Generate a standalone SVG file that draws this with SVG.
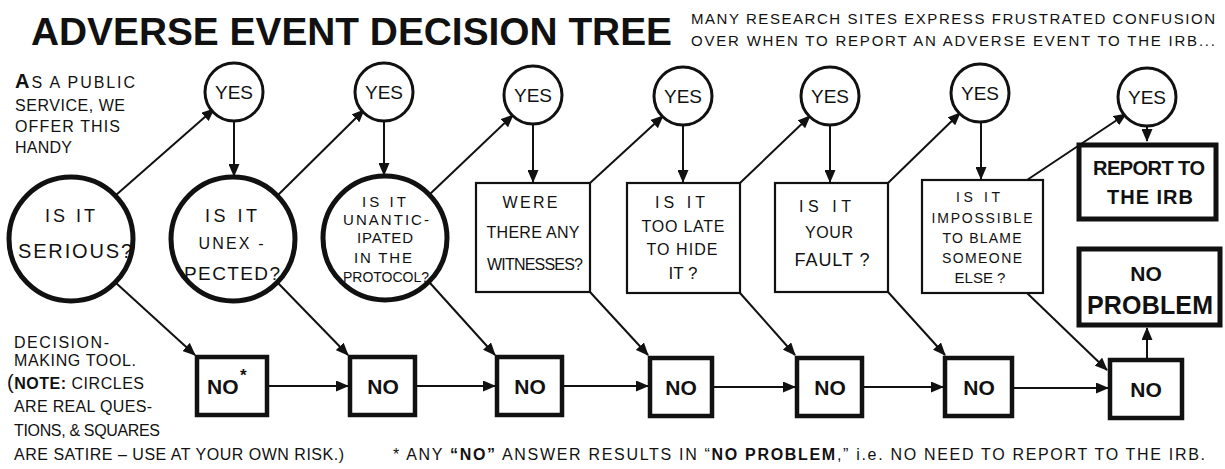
<svg xmlns="http://www.w3.org/2000/svg" width="1225" height="469" viewBox="0 0 1225 469">
<style>
.t{font-family:"Liberation Sans",Arial,sans-serif;fill:#111;text-anchor:middle}
.l{font-family:"Liberation Sans",Arial,sans-serif;fill:#111;text-anchor:start}
.b{font-weight:bold}
.qc{fill:#fff;stroke:#111;stroke-width:5}
.yc{fill:#fff;stroke:#111;stroke-width:3}
.qr{fill:#fff;stroke:#111;stroke-width:2.2}
.nb{fill:#fff;stroke:#111;stroke-width:4.5}
.c{stroke:#111;stroke-width:2;fill:none;marker-end:url(#ah)}
.q{font-size:16px}
.y{font-size:19px}
.n{font-size:21px;font-weight:bold}
.s{font-size:16px}
</style>
<defs>
<marker id="ah" markerUnits="userSpaceOnUse" markerWidth="13" markerHeight="11" viewBox="0 0 13 11" refX="12" refY="5.5" orient="auto">
<path d="M0,0 L13,5.5 L0,11 z" fill="#111"/>
</marker>
</defs>
<rect width="1225" height="469" fill="#fff"/>

<g id="title">
<text class="l b" x="31" y="45" font-size="38" textLength="641" lengthAdjust="spacingAndGlyphs">ADVERSE EVENT DECISION TREE</text>
</g>
<g id="intro">
<text class="l" x="691" y="24" font-size="15" textLength="524">MANY RESEARCH SITES EXPRESS FRUSTRATED CONFUSION</text>
<text class="l" x="691" y="46" font-size="15" textLength="524">OVER WHEN TO REPORT AN ADVERSE EVENT TO THE IRB...</text>
</g>
<g id="side-note">
<text class="l s" x="15" y="88" textLength="120"><tspan font-weight="bold" font-size="20">A</tspan>S A PUBLIC</text>
<text class="l s" x="15" y="111" textLength="110">SERVICE, WE</text>
<text class="l s" x="15" y="132" textLength="105">OFFER THIS</text>
<text class="l s" x="15" y="153" textLength="57">HANDY</text>
<text class="l s" x="14" y="348" textLength="95">DECISION-</text>
<text class="l s" x="14" y="366" textLength="122">MAKING TOOL.</text>
<text class="l s" x="7" y="389" textLength="137"><tspan font-size="20">(</tspan><tspan font-weight="bold">NOTE:</tspan> CIRCLES</text>
<text class="l s" x="14" y="412" textLength="138">ARE REAL QUES-</text>
<text class="l s" x="14" y="436" textLength="146">TIONS, &amp; SQUARES</text>
<text class="l s" x="14" y="460" textLength="330">ARE SATIRE – USE AT YOUR OWN RISK.)</text>
</g>
<g id="footnote">
<text class="l" x="393" y="460" font-size="16" textLength="812">* ANY <tspan font-weight="bold">“NO”</tspan> ANSWER RESULTS IN “<tspan font-weight="bold">NO PROBLEM</tspan>,” i.e. NO NEED TO REPORT TO THE IRB.</text>
</g>

<g id="connectors">
<path class="c" d="M116,195 L214,109"/>
<path class="c" d="M278,195 L364,110"/>
<path class="c" d="M430,194 L513,115"/>
<path class="c" d="M590,183 L663,116"/>
<path class="c" d="M740,183 L810,116"/>
<path class="c" d="M888,183 L960,113"/>
<path class="c" d="M1027,180 L1126,114"/>
<path class="c" d="M234,121 L234,176"/>
<path class="c" d="M384,121 L384,175"/>
<path class="c" d="M533,124 L533,182"/>
<path class="c" d="M683,125 L683,182"/>
<path class="c" d="M830,125 L830,182"/>
<path class="c" d="M981,122 L981,179"/>
<path class="c" d="M1147,126 L1147,141"/>
<path class="c" d="M116,283 L195,355"/>
<path class="c" d="M278,283 L348,355"/>
<path class="c" d="M430,283 L495,355"/>
<path class="c" d="M590,292 L648,355"/>
<path class="c" d="M740,293 L795,355"/>
<path class="c" d="M888,292 L945,355"/>
<path class="c" d="M1027,293 L1107,370"/>
<path class="c" d="M267,386 L348,386"/>
<path class="c" d="M415,386 L495,386"/>
<path class="c" d="M562,386 L648,386"/>
<path class="c" d="M712,387 L795,387"/>
<path class="c" d="M862,387 L943,387"/>
<path class="c" d="M1012,388 L1108,388"/>
<path class="c" d="M1147,358 L1147,328"/>
</g>

<g id="q1"><circle class="qc" cx="71" cy="239" r="62"/>
<text class="t" x="70" y="222" font-size="18" textLength="50">IS IT</text>
<text class="t" x="75" y="258" font-size="20" textLength="114">SERIOUS?</text></g>
<g id="q2"><circle class="qc" cx="233" cy="239" r="62"/>
<text class="t" x="231" y="222" font-size="18" textLength="52">IS IT</text>
<text class="t q" x="231" y="249" textLength="65">UNEX -</text>
<text class="t" x="232" y="280" font-size="19" textLength="96">PECTED?</text></g>
<g id="q3"><circle class="qc" cx="385" cy="238" r="62"/>
<text class="t" x="384" y="207" font-size="15" textLength="44">IS IT</text>
<text class="t" x="386" y="225" font-size="15" textLength="86">UNANTIC-</text>
<text class="t" x="385" y="243" font-size="15" textLength="56">IPATED</text>
<text class="t" x="383" y="263" font-size="15" textLength="58">IN THE</text>
<text class="t" x="386" y="282" font-size="14">PROTOCOL?</text></g>
<g id="q4"><rect class="qr" x="476" y="183" width="114" height="109"/>
<text class="t q" x="530" y="208" textLength="55">WERE</text>
<text class="t q" x="533" y="238" textLength="93">THERE ANY</text>
<text class="t q" x="535" y="270" textLength="96">WITNESSES?</text></g>
<g id="q5"><rect class="qr" x="627" y="183" width="113" height="110"/>
<text class="t q" x="680" y="208" textLength="50">IS IT</text>
<text class="t q" x="683" y="232" textLength="83">TOO LATE</text>
<text class="t q" x="682" y="255" textLength="71">TO HIDE</text>
<text class="t" x="683" y="279" font-size="17">IT ?</text></g>
<g id="q6"><rect class="qr" x="775" y="183" width="113" height="109"/>
<text class="t q" x="825" y="212" textLength="52">IS IT</text>
<text class="t q" x="829" y="238" textLength="48">YOUR</text>
<text class="t" x="832" y="266" font-size="18" textLength="75">FAULT ?</text></g>
<g id="q7"><rect class="qr" x="922" y="180" width="121" height="113"/>
<text class="t" x="978" y="202" font-size="14" textLength="44">IS IT</text>
<text class="t" x="982" y="223" font-size="14" textLength="101">IMPOSSIBLE</text>
<text class="t" x="982" y="243" font-size="14" textLength="79">TO BLAME</text>
<text class="t" x="982" y="263" font-size="14" textLength="80">SOMEONE</text>
<text class="t" x="980" y="283" font-size="15">ELSE ?</text></g>

<g id="yes1"><circle class="yc" cx="234" cy="92" r="29"/><text class="t y" x="234" y="99" textLength="38">YES</text></g>
<g id="yes2"><circle class="yc" cx="384" cy="92" r="29"/><text class="t y" x="384" y="99" textLength="38">YES</text></g>
<g id="yes3"><circle class="yc" cx="533" cy="95" r="29"/><text class="t y" x="533" y="102" textLength="38">YES</text></g>
<g id="yes4"><circle class="yc" cx="683" cy="96" r="29"/><text class="t y" x="683" y="103" textLength="38">YES</text></g>
<g id="yes5"><circle class="yc" cx="830" cy="96" r="29"/><text class="t y" x="830" y="103" textLength="38">YES</text></g>
<g id="yes6"><circle class="yc" cx="980" cy="93" r="29"/><text class="t y" x="980" y="100" textLength="38">YES</text></g>
<g id="yes7"><circle class="yc" cx="1147" cy="97" r="29"/><text class="t y" x="1147" y="104" textLength="38">YES</text></g>

<g id="report"><rect x="1079" y="145" width="137" height="74" fill="#fff" stroke="#111" stroke-width="5"/>
<text class="t b" x="1149" y="175" font-size="20" textLength="112">REPORT TO</text>
<text class="t b" x="1150" y="204" font-size="20" textLength="86">THE IRB</text></g>
<g id="noproblem"><rect x="1079" y="249" width="141" height="76" fill="#fff" stroke="#111" stroke-width="5"/>
<text class="t b" x="1146" y="281" font-size="21">NO</text>
<text class="t b" x="1150" y="314" font-size="25" textLength="126">PROBLEM</text></g>

<g id="no1"><rect class="nb" x="197" y="357" width="70" height="58"/><text class="l n" x="207" y="394">NO</text><text class="l b" x="240" y="381" font-size="17">*</text></g>
<g id="no2"><rect class="nb" x="350" y="357" width="65" height="58"/><text class="t n" x="383" y="394">NO</text></g>
<g id="no3"><rect class="nb" x="497" y="357" width="65" height="58"/><text class="t n" x="530" y="394">NO</text></g>
<g id="no4"><rect class="nb" x="650" y="358" width="62" height="58"/><text class="t n" x="681" y="395">NO</text></g>
<g id="no5"><rect class="nb" x="797" y="358" width="65" height="58"/><text class="t n" x="830" y="395">NO</text></g>
<g id="no6"><rect class="nb" x="945" y="358" width="67" height="58"/><text class="t n" x="979" y="395">NO</text></g>
<g id="no7"><rect class="nb" x="1110" y="360" width="72" height="58"/><text class="t n" x="1146" y="397">NO</text></g>
</svg>
